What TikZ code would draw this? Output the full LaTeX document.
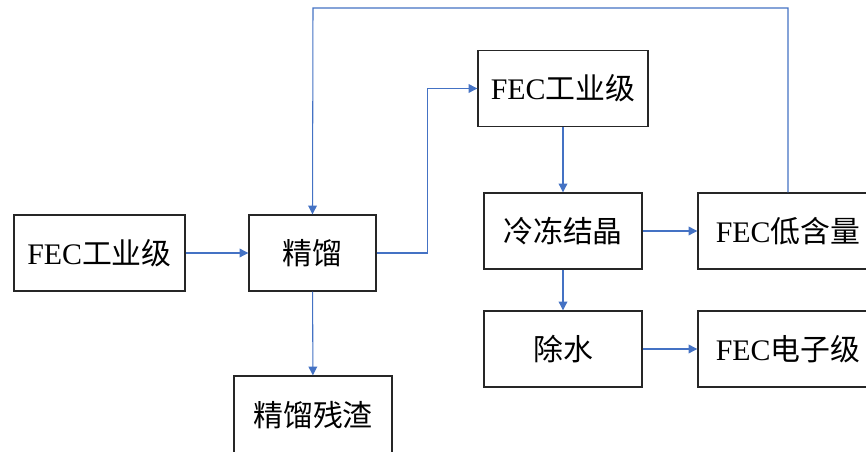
\documentclass[tikz,border=0pt]{standalone}
\usepackage{fontspec}
\setmainfont{Liberation Serif}
\newfontfamily\cjk{Noto Sans CJK SC}
\usetikzlibrary{arrows.meta}
\newcommand{\zh}[1]{{\cjk #1}}

\begin{document}
\begin{tikzpicture}[x=0.02cm,y=-0.02cm,
  box/.style={draw=black!85,line width=0.8pt,inner sep=0pt,minimum height=1.52cm,font=\fontsize{17}{19}\selectfont},
  flow/.style={draw={rgb,255:red,68;green,114;blue,196},line width=0.6pt,-{Triangle[length=5pt,width=5pt]}}]
\clip (0,0) rectangle (866,452);
\fill [white] (0,0) rectangle (866,452);
\node [box,minimum width=3.42cm] (feed) at (99.5,253) {FEC\zh{工业级}};
\node [box,minimum width=2.54cm] (dist) at (312.5,253) {\zh{精馏}};
\node [box,minimum width=3.16cm,minimum height=1.56cm] (res) at (313,415) {\zh{精馏残渣}};
\node [box,minimum width=3.4cm] (ind) at (563,88.5) {FEC\zh{工业级}};
\node [box,minimum width=3.16cm] (cryst) at (563,231) {\zh{冷冻结晶}};
\node [box,minimum width=3.6cm] (low) at (788,231) {FEC\zh{低含量}};
\node [box,minimum width=3.16cm] (dry) at (563,349) {\zh{除水}};
\node [box,minimum width=3.6cm] (elec) at (788,349) {FEC\zh{电子级}};
\coordinate (loop) at (313,8);
% main line
\draw [flow] (feed) -- (dist);
\draw [flow] (dist.east) -- ++(51,0) |- (ind.west);
\draw [flow] (dist) -- (res);
\draw [flow] (ind) -- (cryst);
\draw [flow] (cryst) -- (low);
\draw [flow] (cryst) -- (dry);
\draw [flow] (dry) -- (elec);
% recycle
\draw [flow] (low.north) |- (loop) -- (dist.north);
\end{tikzpicture}
\end{document}
